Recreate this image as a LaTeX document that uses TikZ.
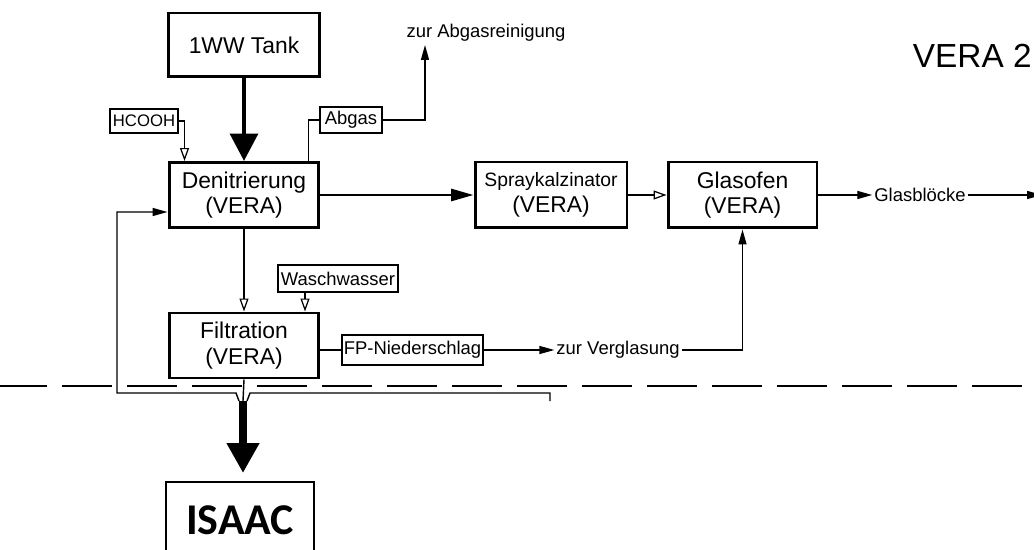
\documentclass[tikz,border=0pt]{standalone}
\usepackage{fontspec}
\setmainfont{Liberation Sans}
\newfontfamily\isaacfont{Carlito}
\usetikzlibrary{arrows.meta,positioning}

\begin{document}
\begin{tikzpicture}[x=0.02cm,y=-0.02cm,>=Latex,
  unit/.style={draw,line width=1.7pt,align=center,font=\fontsize{13}{14.5}\selectfont,inner sep=1pt},
  tag/.style={draw,line width=0.7pt,font=\fontsize{10.5}{12}\selectfont,inner sep=1pt},
  lbl/.style={font=\fontsize{10.5}{12}\selectfont,inner sep=1pt},
  flow/.style={line width=0.8pt},
  heavy/.style={line width=1.6pt},
  tipf/.style={-{Triangle[length=0.3cm,width=0.16cm]}},
  tipo/.style={-{Triangle[open,length=0.26cm,width=0.18cm,line width=0.7pt]}}]
\useasboundingbox (0,0) rectangle (1034,550);
% process units
\node[unit,minimum width=3.04cm,minimum height=1.28cm] (tank) at (244,45) {1WW Tank};
\node[unit,minimum width=3cm,minimum height=1.3cm] (denit) at (244,195) {Denitrierung\\(VERA)};
\node[unit,minimum width=3cm,minimum height=1.3cm] (filt) at (244,345.5) {Filtration\\(VERA)};
\node[unit,minimum width=3.04cm,minimum height=1.32cm] (spray) at (551,195) {{\fontsize{11}{12}\selectfont Spraykalzinator}\\(VERA)};
\node[unit,minimum width=2.98cm,minimum height=1.32cm] (ofen) at (742.5,195) {Glasofen\\(VERA)};
% small streams
\node[tag,minimum width=1.36cm,minimum height=0.48cm,font=\fontsize{9.5}{11}\selectfont] (hcooh) at (144,121) {HCOOH};
\node[tag,minimum width=1.24cm,minimum height=0.52cm] (abgas) at (351,120) {Abgas};
\node[tag,minimum width=2.4cm,minimum height=0.54cm] (wasch) at (338,278.5) {Waschwasser};
\node[tag,minimum width=2.82cm,minimum height=0.6cm] (fp) at (412.5,350) {FP-Niederschlag};
\node[lbl] (abgasrein) at (486,33) {zur Abgasreinigung};
\node[lbl] (vergl) at (618,350) {zur Verglasung};
\node[lbl] (bloecke) at (920,195) {Glasblöcke};
\node[anchor=east,inner sep=0pt,font=\fontsize{19}{22}\selectfont] (title) at (1032,56) {VERA 2};
\node[draw,line width=1pt,anchor=north,minimum width=2.96cm,minimum height=1.52cm,font=\isaacfont\bfseries\fontsize{25}{28}\selectfont] (isaac) at (240,481) {ISAAC};
% helper points
\coordinate (up) at (425,45);
\coordinate (rim) at (1042,195);
\coordinate (stem) at (243,401);
\coordinate (funl) at (239,401);
\coordinate (funr) at (247,401);
\coordinate (retl) at (117,393);
\coordinate (retr) at (550,393);
\coordinate (sepl) at (-3,386);
\coordinate (sepr) at (1040,386);
% main line
\draw[line width=2.8pt,-{Triangle[length=0.55cm,width=0.55cm]}] (tank) -- (denit);
\draw[heavy,-{Triangle[length=0.45cm,width=0.24cm]}] (denit) -- (spray);
\draw[heavy,tipo] (denit) -- (filt);
\draw[flow,tipo] (spray) -- (ofen);
\draw[flow,tipf] (ofen) -- (bloecke);
\draw[flow,tipf] (bloecke) -- (rim);
% side streams
\draw[flow,tipo] (hcooh.east) -| ([xshift=0.34cm]denit.north west);
\draw[flow] ([xshift=-0.24cm]denit.north east) |- (abgas.west);
\draw[flow,tipf] (abgas.east) -| (up);
\draw[flow,tipo] ([xshift=-0.66cm]wasch.south) -- ([xshift=-0.66cm]wasch.south |- filt.north);
\draw[flow] (filt.east |- fp.west) -- (fp.west);
\draw[flow,tipf] (fp.east) -- (vergl.west);
\draw[flow,tipf] (vergl.east) -| (ofen.south);
% recycle and outlet
\draw[flow] (filt.south) -- (stem);
\draw[flow,tipf] (funl) -- ++(-3,-8) -- (retl) |- ([yshift=-0.34cm]denit.west);
\draw[flow] (funr) -- ++(3,-8) -- (retr) -- ++(0,8);
\draw[line width=5pt,-{Triangle[length=0.6cm,width=0.62cm]},shorten >=0.16cm] (stem) -- (stem |- isaac.north);
% plant boundary
\draw[line width=0.7pt,dash pattern=on 1cm off 0.3cm] (sepl) -- (sepr);
\end{tikzpicture}
\end{document}
